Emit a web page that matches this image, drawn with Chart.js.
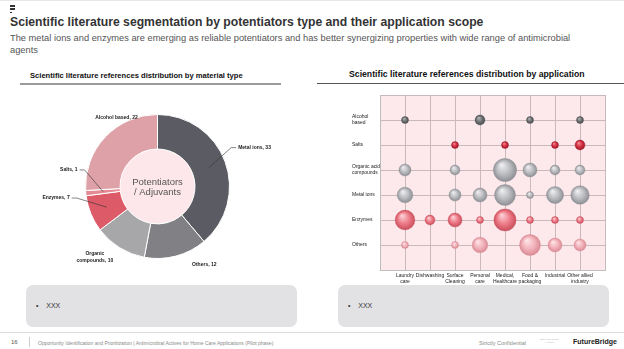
<!DOCTYPE html>
<html>
<head>
<meta charset="utf-8">
<script src="https://cdn.jsdelivr.net/npm/chart.js@4.4.1/dist/chart.umd.min.js"></script>
<style>
  html, body { margin: 0; padding: 0; background: #fff; }
  body { width: 624px; height: 349px; position: relative; overflow: hidden; font-family: 'Liberation Sans', Arial, sans-serif; }
  .abs { position: absolute; }
  .topline { left: 0; top: 0; width: 624px; height: 1px; background: #e6e6e6; }
  .logo div { position: absolute; background: #333; }
  .title { left: 10px; top: 15px; font-size: 12.2px; font-weight: bold; color: #333; white-space: nowrap; }
  .subtitle { left: 10px; top: 32px; width: 590px; font-size: 9.3px; line-height: 12px; color: #555; }
  .sechead { font-weight: bold; color: #111; white-space: nowrap; }
  .rule { height: 2px; background: #9b9b9b; }
  .box { background: #e2e2e4; border-radius: 7px; z-index: 5; }
  .box span { position: absolute; left: 10px; top: 17px; font-size: 7px; color: #333; }
  .foot { font-size: 5px; color: #8a8a8a; white-space: nowrap; }
</style>
</head>
<body>
<div class="abs topline"></div>
<div class="abs logo" style="left:10px;top:5px;width:6px;height:10px;">
  <div style="left:0;top:0;width:5px;height:1.5px;"></div>
  <div style="left:0;top:3px;width:5px;height:1.5px;"></div>
  <div style="left:0;top:6.5px;width:1.5px;height:1.5px;"></div>
</div>
<div class="abs title">Scientific literature segmentation by potentiators type and their application scope</div>
<div class="abs subtitle">The metal ions and enzymes are emerging as reliable potentiators and has better synergizing properties with wide range of antimicrobial agents</div>

<div class="abs sechead" style="left:30px;top:71px;font-size:7.6px;">Scientific literature references distribution by material type</div>
<div class="abs rule" style="left:20px;top:83px;width:261px;"></div>
<div class="abs sechead" style="left:349px;top:69px;font-size:8.7px;">Scientific literature references distribution by application</div>
<div class="abs rule" style="left:317px;top:83px;width:307px;height:1px;background:#555;"></div>

<canvas id="donutChart" class="abs" style="left:20px;top:95px;width:280px;height:185px;"></canvas>
<canvas id="bubbleChart" class="abs" style="left:340px;top:83px;width:280px;height:206px;"></canvas>

<div class="abs box" style="left:26px;top:285px;width:271px;height:42px;"><span>•&nbsp;&nbsp;&nbsp;&nbsp;XXX</span></div>
<div class="abs box" style="left:338px;top:285px;width:271px;height:42px;"><span>•&nbsp;&nbsp;&nbsp;&nbsp;XXX</span></div>

<div class="abs" style="left:0;top:332px;width:624px;height:1px;background:#dcdcdc;"></div>
<div class="abs foot" style="left:11px;top:339px;font-size:6px;color:#555;">16</div>
<div class="abs" style="left:29px;top:337px;width:1px;height:10px;background:#ccc;"></div>
<div class="abs foot" style="left:38px;top:340px;">Opportunity Identification and Prioritization | Antimicrobial Actives for Home Care Applications (Pilot phase)</div>
<div class="abs foot" style="left:479px;top:340px;font-size:5.5px;">Strictly Confidential</div>
<div class="abs foot" style="left:540px;top:338px;font-size:2.5px;color:#bbb;line-height:3px;text-align:center;">DELIVERABLES<br>V1.2018</div>
<div class="abs foot" style="left:573px;top:338px;font-size:7px;font-weight:bold;color:#222;">FutureBridge</div>

<script>
// material type split (donut)
const materialTypes = ['Metal ions', 'Others', 'Organic compounds', 'Enzymes', 'Salts', 'Alcohol based'];
const materialCounts = [33, 12, 10, 7, 1, 22];
const materialColors = ['#5b5c63', '#818185', '#a7a7aa', '#dd5a68', '#e58a94', '#dda1a7'];

// application matrix (bubbles), one array per potentiator, in application order
const applications = ['Laundry care', 'Dishwashing', 'Surface Cleaning', 'Personal care', 'Medical, Healthcare', 'Food & packaging', 'Industrial', 'Other allied industry'];
const applicationTicks = [['Laundry', 'care'], 'Dishwashing', ['Surface', 'Cleaning'], ['Personal', 'care'], ['Medical,', 'Healthcare'], ['Food &', 'packaging'], 'Industrial', ['Other allied', 'industry']];
const potentiatorTicks = ['Others', 'Enzymes', 'Metal ions', ['Organic acid/', 'compounds'], 'Salts', ['Alcohol', 'based']];
const othersRefs = [1, 0, 1, 5, 0, 9, 4, 3];
const enzymesRefs = [8, 2, 4, 1, 10, 1, 1, 1];
const metalIonsRefs = [5, 0, 3, 4, 9, 1, 6, 7];
const organicRefs = [3, 0, 2, 0, 11, 4, 2, 2];
const saltsRefs = [0, 0, 1, 0, 1, 0, 1, 2];
const alcoholRefs = [1, 0, 0, 2, 0, 1, 0, 1];

const FONT = "'Liberation Sans', Arial, sans-serif";

// label placement around the donut, in units of the outer radius
const donutLabelLayout = [
  { dx: 1.12, dy: -0.54, align: 'left', leader: true },
  { dx: 0.48, dy: 1.08, align: 'left', leader: false },
  { dx: -0.87, dy: 0.98, align: 'center', leader: false, wrap: true },
  { dx: -1.22, dy: 0.16, align: 'right', leader: true },
  { dx: -1.11, dy: -0.23, align: 'right', leader: true },
  { dx: -0.57, dy: -0.95, align: 'center', leader: false }
];

const donutDecor = {
  id: 'donutDecor',
  beforeDatasetsDraw(chart) {
    const arc = chart.getDatasetMeta(0).data[0];
    if (!arc) return;
    const { x, y, innerRadius } = arc.getProps(['x', 'y', 'innerRadius'], true);
    const ctx = chart.ctx;
    ctx.save();
    ctx.fillStyle = '#fde7ea';
    ctx.beginPath();
    ctx.arc(x, y, innerRadius, 0, Math.PI * 2);
    ctx.fill();
    ctx.fillStyle = '#555';
    ctx.font = '9.5px ' + FONT;
    ctx.textAlign = 'center';
    ctx.textBaseline = 'middle';
    ctx.fillText('Potentiators', x, y - 4);
    ctx.fillText('/ Adjuvants', x, y + 6);
    ctx.restore();
  },
  afterDatasetsDraw(chart) {
    const ctx = chart.ctx;
    const meta = chart.getDatasetMeta(0);
    ctx.save();
    ctx.font = 'bold 5px ' + FONT;
    ctx.fillStyle = '#222';
    ctx.strokeStyle = '#333';
    ctx.lineWidth = 0.6;
    ctx.textBaseline = 'middle';
    meta.data.forEach((arc, i) => {
      const { x, y, startAngle, endAngle, innerRadius, outerRadius } =
        arc.getProps(['x', 'y', 'startAngle', 'endAngle', 'innerRadius', 'outerRadius'], true);
      const lay = donutLabelLayout[i];
      const lx = x + lay.dx * outerRadius;
      const ly = y + lay.dy * outerRadius;
      if (lay.leader) {
        const mid = (startAngle + endAngle) / 2;
        const rm = (innerRadius + outerRadius) / 2;
        const side = lay.align === 'left' ? -1 : 1;
        ctx.beginPath();
        ctx.moveTo(x + Math.cos(mid) * rm, y + Math.sin(mid) * rm);
        ctx.lineTo(lx + side * 7, ly);
        ctx.lineTo(lx + side * 2, ly);
        ctx.stroke();
      }
      ctx.textAlign = lay.align;
      const name = materialTypes[i];
      if (lay.wrap) {
        const cut = name.indexOf(' ');
        ctx.fillText(name.slice(0, cut), lx, ly - 3.5);
        ctx.fillText(name.slice(cut + 1) + ', ' + materialCounts[i], lx, ly + 3.5);
      } else {
        ctx.fillText(name + ', ' + materialCounts[i], lx, ly);
      }
    });
    ctx.restore();
  }
};

const plotBackground = {
  id: 'plotBackground',
  beforeDraw(chart) {
    const { ctx, chartArea } = chart;
    ctx.save();
    ctx.fillStyle = '#fde9ec';
    ctx.fillRect(chartArea.left, chartArea.top, chartArea.right - chartArea.left, chartArea.bottom - chartArea.top);
    ctx.restore();
  }
};

function glossy(base, light, dark) {
  return (c) => {
    if (!c.raw) return base;
    const chart = c.chart;
    const px = chart.scales.x.getPixelForValue(c.raw.x);
    const py = chart.scales.y.getPixelForValue(c.raw.y);
    const r = Math.max(c.raw.r, 1);
    if (!isFinite(px) || !isFinite(py)) return base;
    const g = chart.ctx.createRadialGradient(px - r * 0.3, py - r * 0.45, r * 0.05, px, py, r);
    g.addColorStop(0, light);
    g.addColorStop(0.6, base);
    g.addColorStop(1, dark);
    return g;
  };
}

function bubbleRow(refs, row) {
  const pts = [];
  refs.forEach((v, i) => {
    if (v > 0) pts.push({ x: i + 1, y: row, r: 3.5 * Math.sqrt(v) });
  });
  return pts;
}

function initDonut() {
  new Chart(document.getElementById('donutChart'), {
    type: 'doughnut',
    data: {
      labels: materialTypes,
      datasets: [{
        data: materialCounts,
        backgroundColor: materialColors,
        borderColor: '#ffffff',
        borderWidth: 1
      }]
    },
    options: {
      responsive: false,
      animation: false,
      events: [],
      cutout: '52%',
      layout: { padding: { left: 65, right: 70, top: 19, bottom: 21 } },
      plugins: { legend: { display: false }, tooltip: { enabled: false } }
    },
    plugins: [donutDecor]
  });
}

function initBubbles() {
  const rows = [
    { label: 'Others', refs: othersRefs, base: '#f1b0b8', light: '#fde4e7', dark: '#d98a94' },
    { label: 'Enzymes', refs: enzymesRefs, base: '#ec7683', light: '#fbd0d5', dark: '#c9505e' },
    { label: 'Metal ions', refs: metalIonsRefs, base: '#b8b9bd', light: '#eeeef0', dark: '#8e8f94' },
    { label: 'Organic acid/ compounds', refs: organicRefs, base: '#b8b9bd', light: '#eeeef0', dark: '#8e8f94' },
    { label: 'Salts', refs: saltsRefs, base: '#d42a3d', light: '#f08a96', dark: '#9e1a28' },
    { label: 'Alcohol based', refs: alcoholRefs, base: '#6d6e70', light: '#b4b5b7', dark: '#4a4b4d' }
  ];
  const gridColor = '#c9b9bb';
  new Chart(document.getElementById('bubbleChart'), {
    type: 'bubble',
    data: {
      datasets: rows.map((row, idx) => ({
        label: row.label,
        data: bubbleRow(row.refs, idx + 1),
        backgroundColor: glossy(row.base, row.light, row.dark),
        borderColor: row.dark,
        borderWidth: 0.4
      }))
    },
    options: {
      responsive: false,
      animation: false,
      events: [],
      layout: { padding: { left: 12, right: 15, top: 0, bottom: 0 } },
      plugins: { legend: { display: false }, tooltip: { enabled: false } },
      scales: {
        x: {
          type: 'linear',
          min: 0,
          max: applications.length + 1,
          afterFit: (s) => { s.height = 19; },
          grid: { color: gridColor, lineWidth: 1, drawTicks: false },
          border: { color: '#bdbdbd' },
          ticks: {
            stepSize: 1,
            autoSkip: false,
            maxRotation: 0,
            padding: 3,
            color: '#222',
            font: { size: 5, family: FONT, lineHeight: 1.15 },
            callback: (v) => (v >= 1 && v <= applications.length ? applicationTicks[v - 1] : '')
          }
        },
        y: {
          type: 'linear',
          min: 0,
          max: potentiatorTicks.length + 1,
          afterFit: (s) => { s.width = 28; },
          grid: { color: gridColor, lineWidth: 1, drawTicks: false },
          border: { color: '#bdbdbd' },
          ticks: {
            stepSize: 1,
            autoSkip: false,
            crossAlign: 'far',
            color: '#222',
            font: { size: 5, family: FONT, lineHeight: 1.2 },
            callback: (v) => (v >= 1 && v <= potentiatorTicks.length ? potentiatorTicks[v - 1] : '')
          }
        }
      }
    },
    plugins: [plotBackground]
  });
}

function initCharts() {
  initDonut();
  initBubbles();
}

document.addEventListener('DOMContentLoaded', initCharts);
</script>
</body>
</html>
